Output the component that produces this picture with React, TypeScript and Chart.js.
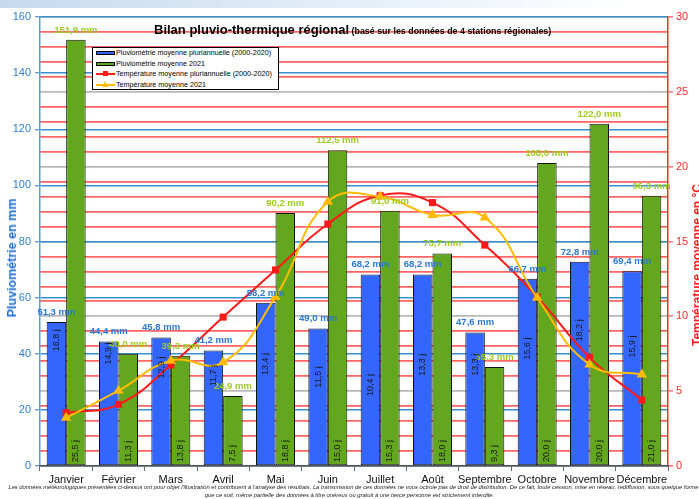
import React, { useEffect, useRef } from "react";
import { Chart, registerables } from "chart.js";

Chart.register(...registerables);

const months = ["Janvier", "Février", "Mars", "Avril", "Mai", "Juin", "Juillet", "Août", "Septembre", "Octobre", "Novembre", "Décembre"];
const rainAvg = [51.3, 44.4, 45.8, 41.2, 58.2, 49.0, 68.2, 68.2, 47.6, 66.7, 72.8, 69.4];
const rain2021 = [151.9, 40.0, 39.3, 24.9, 90.2, 112.5, 91.0, 75.7, 35.3, 108.0, 122.0, 96.3];
const daysAvg = [16.8, 14.9, 12.9, 11.7, 13.4, 11.5, 10.4, 13.3, 13.3, 15.6, 18.2, 15.9];
const days2021 = [25.5, 11.3, 13.8, 7.5, 18.8, 15.0, 15.3, 18.0, 9.3, 20.0, 20.0, 21.0];
const tempAvg = [3.56, 4.12, 6.75, 9.95, 13.1, 16.17, 18.06, 17.6, 14.76, 11.3, 7.26, 4.41];
const temp2021 = [3.23, 5.03, 7.03, 6.93, 11.3, 17.66, 18.0, 16.77, 16.6, 11.24, 6.79, 6.12];
const seriesNames = [
  "Pluviométrie moyenne pluriannuelle (2000-2020)",
  "Pluviométrie moyenne 2021",
  "Température moyenne pluriannuelle (2000-2020)",
  "Température moyenne 2021",
];
const chartTitle = "Bilan pluvio-thermique régional";
const chartSubtitle = "(basé sur les données de 4 stations régionales)";
const leftTitle = "Pluviométrie en mm";
const rightTitle = "Température moyenne en °C";
const footer1 = "Les données météorologiques présentées ci-dessus ont pour objet l'illustration et contribuent à l'analyse des résultats. La transmission de ces données ne vous octroie pas de droit de distribution. De ce fait, toute cession, mise en réseau, rediffusion, sous quelque forme";
const footer2 = "que ce soit, même partielle des données à titre onéreux ou gratuit à une tierce personne est strictement interdite.";

const BLUE = "#3366ff";
const GREEN = "#63a71e";
const RED = "#ff1a1a";
const YELLOW = "#ffbb00";
const AXIS_BLUE = "#2f7fd0";
const LABEL_BLUE = "#2a78d8";
const LABEL_GREEN = "#9ccc1c";
const FONT = '"Liberation Sans", Arial, sans-serif';

const fmt = (v: number) => v.toFixed(1).replace(".", ",");

const labelPlugin = {
  id: "barLabels",
  afterDatasetsDraw(chart: any) {
    const ctx = chart.ctx as CanvasRenderingContext2D;
    const mBlue = chart.getDatasetMeta(0);
    const mGreen = chart.getDatasetMeta(1);
    const yd = chart.scales.yd;
    const y = chart.scales.y;
    ctx.save();
    ctx.font = `bold 9.5px ${FONT}`;
    ctx.textAlign = "center";
    ctx.textBaseline = "bottom";
    mBlue.data.forEach((bar: any, i: number) => {
      ctx.fillStyle = LABEL_BLUE;
      ctx.fillText(fmt(rainAvg[i]) + " mm", bar.x, bar.y - 5);
    });
    mGreen.data.forEach((bar: any, i: number) => {
      ctx.fillStyle = LABEL_GREEN;
      ctx.fillText(fmt(rain2021[i]) + " mm", bar.x, bar.y - 5);
    });
    ctx.font = `9px ${FONT}`;
    ctx.fillStyle = "#1a1a1a";
    ctx.textBaseline = "middle";
    mBlue.data.forEach((bar: any, i: number) => {
      ctx.save();
      ctx.translate(bar.x, yd.getPixelForValue(daysAvg[i]) - 19);
      ctx.rotate(-Math.PI / 2);
      ctx.textAlign = "right";
      ctx.fillText(fmt(daysAvg[i]) + " j", 0, 0);
      ctx.restore();
    });
    mGreen.data.forEach((bar: any, i: number) => {
      ctx.save();
      ctx.translate(bar.x, y.getPixelForValue(0) - 4);
      ctx.rotate(-Math.PI / 2);
      ctx.textAlign = "left";
      ctx.fillText(fmt(days2021[i]) + " j", 0, 0);
      ctx.restore();
    });
    ctx.restore();
  },
};

function LegendSample({ kind }: { kind: number }) {
  const base: React.CSSProperties = { position: "relative", width: 19, height: 8, marginRight: 1, flex: "0 0 auto" };
  if (kind === 0 || kind === 1) {
    return (
      <div style={base}>
        <div style={{ position: "absolute", left: 0, top: 2, width: 17, height: 2, border: "1px solid #000", background: kind === 0 ? BLUE : GREEN }} />
      </div>
    );
  }
  const color = kind === 2 ? RED : YELLOW;
  return (
    <div style={base}>
      <div style={{ position: "absolute", left: 0, top: 3, width: 19, height: 2, background: color }} />
      {kind === 2 ? (
        <div style={{ position: "absolute", left: 7, top: 1, width: 5, height: 5, background: color }} />
      ) : (
        <div style={{ position: "absolute", left: 6, top: 0, width: 0, height: 0, borderLeft: "3.5px solid transparent", borderRight: "3.5px solid transparent", borderBottom: `6px solid ${color}` }} />
      )}
    </div>
  );
}

export default function App() {
  const ref = useRef<HTMLCanvasElement | null>(null);

  useEffect(() => {
    document.body.style.margin = "0";
    if (!ref.current) return;
    const chart = new Chart(ref.current, {
      type: "bar",
      data: {
        labels: months,
        datasets: [
          { type: "bar", label: seriesNames[0], data: rainAvg, backgroundColor: BLUE, borderColor: "#111", borderWidth: 1, borderSkipped: false, yAxisID: "y", order: 2, barPercentage: 1, categoryPercentage: 0.745 } as any,
          { type: "bar", label: seriesNames[1], data: rain2021, backgroundColor: GREEN, borderColor: "#111", borderWidth: 1, borderSkipped: false, yAxisID: "y", order: 2, barPercentage: 1, categoryPercentage: 0.745 } as any,
          { type: "line", label: seriesNames[2], data: tempAvg, borderColor: RED, backgroundColor: RED, borderWidth: 2, tension: 0.45, pointStyle: "rect", pointRadius: 5, pointBorderWidth: 0, yAxisID: "y2", order: 1 } as any,
          { type: "line", label: seriesNames[3], data: temp2021, borderColor: YELLOW, backgroundColor: YELLOW, borderWidth: 2, tension: 0.45, pointStyle: "triangle", pointRadius: 6, pointBorderWidth: 0, yAxisID: "y2", order: 0 } as any,
        ],
      },
      options: {
        responsive: false,
        animation: false,
        devicePixelRatio: 1,
        layout: { padding: { top: 17, left: 0, right: 0, bottom: 0 } },
        plugins: { legend: { display: false }, tooltip: { enabled: false }, title: { display: false } },
        scales: {
          y2: {
            position: "right",
            min: 0,
            max: 30,
            afterFit: (s: any) => { s.width = 31; },
            ticks: {
              stepSize: 1,
              autoSkip: false,
              padding: 3,
              color: "#ff2a2a",
              font: { family: FONT, size: 11 },
              callback: (v: any) => (Number(v) % 5 === 0 ? String(v) : ""),
            },
            grid: {
              color: (c: any) => (c.tick && c.tick.value % 5 === 0 ? "#b9b9b9" : "rgba(255,50,50,0.75)"),
              lineWidth: 1.8,
              tickLength: 5,
              tickColor: (c: any) => (c.tick && c.tick.value % 5 === 0 ? "#ff2a2a" : "rgba(0,0,0,0)"),
              tickWidth: 1,
            },
            border: { color: "#ff2a2a", width: 1.5 },
          },
          y: {
            position: "left",
            min: 0,
            max: 160,
            afterFit: (s: any) => { s.width = 40; },
            ticks: { stepSize: 20, padding: 4, color: AXIS_BLUE, font: { family: FONT, size: 11 } },
            grid: { color: "#3a8fd0", lineWidth: 1.5, tickLength: 5, tickColor: AXIS_BLUE, tickWidth: 1 },
            border: { color: "#5aa0dc", width: 1.5 },
          },
          yd: { display: false, min: 0, max: 64 },
          x: {
            offset: true,
            afterFit: (s: any) => { s.height = 33; },
            grid: { offset: true, drawOnChartArea: false, tickLength: 5, color: "#666", tickWidth: 1 },
            border: { color: "#555", width: 1.5 },
            ticks: { autoSkip: false, maxRotation: 0, padding: 2, color: "#111", font: { family: FONT, size: 11 } },
          },
        },
      } as any,
      plugins: [labelPlugin],
    });
    return () => chart.destroy();
  }, []);

  return (
    <div style={{ position: "relative", width: 699, height: 499, overflow: "hidden", background: "#fff", fontFamily: FONT }}>
      <style>{`body{margin:0}`}</style>
      <div style={{ position: "absolute", left: 0, top: 0, width: 699, height: 8, background: "linear-gradient(to right, #c6daef 0%, #e4eef8 50%, #ffffff 90%)" }} />
      <canvas ref={ref} width={699} height={499} style={{ display: "block", position: "absolute", left: 0, top: 0 }} />
      <div style={{ position: "absolute", left: 154, top: 21, whiteSpace: "nowrap", lineHeight: "16px", color: "#000", fontWeight: "bold" }}>
        <span style={{ fontSize: 13 }}>{chartTitle}</span>
        <span style={{ fontSize: 8.9 }}> {chartSubtitle}</span>
      </div>
      <div style={{ position: "absolute", left: 92, top: 47, width: 185, height: 41, border: "1px solid #000", background: "#fff", boxSizing: "content-box" }}>
        {seriesNames.map((n, i) => (
          <div key={i} style={{ display: "flex", alignItems: "center", height: 10.5, marginLeft: 3, fontSize: 7.2, lineHeight: "10px", color: "#000", whiteSpace: "nowrap" }}>
            <LegendSample kind={i} />
            <span>{n}</span>
          </div>
        ))}
      </div>
      <div style={{ position: "absolute", left: 12, top: 258, width: 0, height: 0 }}>
        <div style={{ position: "absolute", transform: "translate(-50%,-50%) rotate(-90deg)", whiteSpace: "nowrap", fontSize: 12.5, fontWeight: "bold", color: "#1f6fd0" }}>{leftTitle}</div>
      </div>
      <div style={{ position: "absolute", left: 697, top: 265, width: 0, height: 0 }}>
        <div style={{ position: "absolute", transform: "translate(-50%,-50%) rotate(-90deg)", whiteSpace: "nowrap", fontSize: 12, fontWeight: "bold", color: "#ff1a1a" }}>{rightTitle}</div>
      </div>
      <div style={{ position: "absolute", left: 0, top: 484, width: 699, textAlign: "center", fontSize: 5.8, lineHeight: "7.5px", fontStyle: "italic", color: "#222", whiteSpace: "nowrap" }}>
        <div style={{ paddingLeft: 8 }}>{footer1}</div>
        <div>{footer2}</div>
      </div>
    </div>
  );
}
